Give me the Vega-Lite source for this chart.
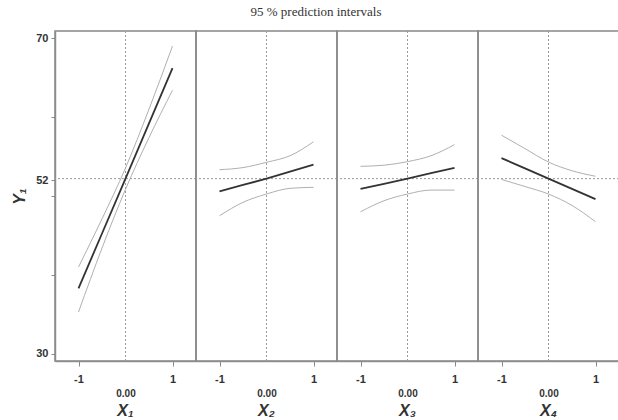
{
  "$schema": "https://vega.github.io/schema/vega-lite/v6.json",
  "background": "white",
  "padding": {"left": 11, "top": 5, "right": 0, "bottom": 0},
  "bounds": "flush",
  "title": {"text": "95 % prediction intervals", "font": "Liberation Serif", "fontSize": 13, "fontWeight": "normal", "color": "#333", "anchor": "middle", "offset": 11},
  "data": {"values": [
    {"panel": "X₁", "x": -1, "mean": 38.3, "upper": 41.0, "lower": 35.3},
    {"panel": "X₁", "x": -0.5, "mean": 45.25, "upper": 47.1, "lower": 43.4},
    {"panel": "X₁", "x": 0, "mean": 52.2, "upper": 53.55, "lower": 50.85},
    {"panel": "X₁", "x": 0.5, "mean": 59.2, "upper": 61.0, "lower": 57.4},
    {"panel": "X₁", "x": 1, "mean": 66.2, "upper": 69.0, "lower": 63.4},
    {"panel": "X₂", "x": -1, "mean": 50.6, "upper": 53.33, "lower": 47.5},
    {"panel": "X₂", "x": -0.5, "mean": 51.4, "upper": 53.6, "lower": 49.2},
    {"panel": "X₂", "x": 0, "mean": 52.2, "upper": 54.27, "lower": 50.25},
    {"panel": "X₂", "x": 0.5, "mean": 53.1, "upper": 55.1, "lower": 50.97},
    {"panel": "X₂", "x": 1, "mean": 53.96, "upper": 56.87, "lower": 51.1},
    {"panel": "X₃", "x": -1, "mean": 50.9, "upper": 53.76, "lower": 48.0},
    {"panel": "X₃", "x": -0.5, "mean": 51.55, "upper": 53.9, "lower": 49.4},
    {"panel": "X₃", "x": 0, "mean": 52.2, "upper": 54.35, "lower": 50.25},
    {"panel": "X₃", "x": 0.5, "mean": 52.9, "upper": 55.1, "lower": 50.75},
    {"panel": "X₃", "x": 1, "mean": 53.55, "upper": 56.5, "lower": 50.75},
    {"panel": "X₄", "x": -1, "mean": 54.8, "upper": 57.7, "lower": 52.1},
    {"panel": "X₄", "x": -0.5, "mean": 53.5, "upper": 56.0, "lower": 51.2},
    {"panel": "X₄", "x": 0, "mean": 52.2, "upper": 54.3, "lower": 50.25},
    {"panel": "X₄", "x": 0.5, "mean": 50.9, "upper": 53.2, "lower": 48.8},
    {"panel": "X₄", "x": 1, "mean": 49.6, "upper": 52.5, "lower": 46.75}
  ]},
  "facet": {
    "column": {
      "field": "panel", "type": "nominal", "sort": ["X₁", "X₂", "X₃", "X₄"],
      "header": {"title": null, "labelOrient": "bottom", "labelFont": "Liberation Sans", "labelFontStyle": "italic", "labelFontWeight": "bold", "labelFontSize": 16, "labelColor": "#333", "labelPadding": 5}
    }
  },
  "spacing": 0,
  "spec": {
    "width": 141,
    "height": 330,
    "encoding": {
      "x": {"field": "x", "type": "quantitative", "scale": {"domain": [-1.5, 1.5], "nice": false, "zero": false},
        "axis": {"values": [-1, 1], "format": "d", "labelExpr": "datum.value < 0 ? '-1' : '1'", "title": "0.00", "titleFont": "Liberation Sans", "titleFontWeight": "bold", "titleFontSize": 10, "titleColor": "#333", "titlePadding": 4, "labelFont": "Liberation Sans", "labelFontWeight": "bold", "labelFontSize": 11, "labelColor": "#333", "labelPadding": 7, "tickSize": 5, "tickColor": "#888", "domainColor": "#999", "domainWidth": 1.5, "grid": false}}
    },
    "layer": [
      {
        "mark": {"type": "rule", "color": "#999", "strokeDash": [2, 2], "strokeWidth": 1},
        "transform": [{"filter": "datum.x == 0"}],
        "encoding": {"y": {"datum": 52.2, "type": "quantitative"}, "x": null}
      },
      {
        "mark": {"type": "rule", "color": "#999", "strokeDash": [2, 2], "strokeWidth": 1},
        "transform": [{"filter": "datum.x == 0"}],
        "encoding": {"x": {"datum": 0, "type": "quantitative"}}
      },
      {
        "mark": {"type": "line", "color": "#b0b0b0", "strokeWidth": 1, "interpolate": "monotone"},
        "encoding": {"y": {"field": "upper", "type": "quantitative"}}
      },
      {
        "mark": {"type": "line", "color": "#b0b0b0", "strokeWidth": 1, "interpolate": "monotone"},
        "encoding": {"y": {"field": "lower", "type": "quantitative"}}
      },
      {
        "mark": {"type": "line", "color": "#333", "strokeWidth": 1.8},
        "encoding": {
          "y": {"field": "mean", "type": "quantitative", "scale": {"domain": [29.1, 70.9], "nice": false, "zero": false},
            "axis": {"values": [30, 40, 50, 52, 60, 70], "labelExpr": "datum.value == 70 || datum.value == 52 || datum.value == 30 ? datum.label : ''", "title": "Y₁", "titleFont": "Liberation Sans", "titleFontStyle": "italic", "titleFontWeight": "bold", "titleFontSize": 16, "titleColor": "#333", "titlePadding": 8, "labelFont": "Liberation Sans", "labelFontWeight": "bold", "labelFontSize": 11, "labelColor": "#333", "labelPadding": 3, "tickSize": 4, "tickColor": "#888", "domainColor": "#999", "domainWidth": 1.5, "grid": false}}
        }
      }
    ]
  },
  "resolve": {"scale": {"y": "shared"}},
  "config": {"view": {"stroke": "#888", "strokeWidth": 1.5}}
}
